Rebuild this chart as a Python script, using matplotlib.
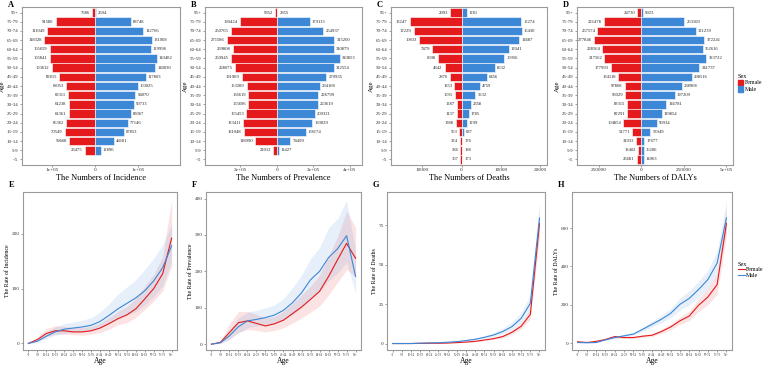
import numpy as np
import matplotlib
matplotlib.use("Agg")
import matplotlib.pyplot as plt
from matplotlib.lines import Line2D
from matplotlib.patches import Patch

plt.rcParams['font.family'] = ['Liberation Serif', 'DejaVu Serif']

# age groups, youngest first
ages = ['<5', '5-9', '10-14', '15-19', '20-24', '25-29', '30-34', '35-39', '40-44',
        '45-49', '50-54', '55-59', '60-64', '65-69', '70-74', '75-79', '95+']

# numbers (top row)
inc_f = [0, 23475, 59668, 70549, 66362, 61361, 61238, 63311, 68053, 82815, 100612,
         105841, 105659, 118328, 111049, 91580, 7586]
inc_m = [0, 12896, 44181, 67853, 77146, 83067, 90733, 94070, 100025, 117803, 140030,
         143482, 129996, 131908, 112766, 83748, 2694]
prev_f = [0, 21012, 118990, 181048, 183411, 165453, 155696, 156619, 163289, 191989,
          228075, 250945, 239808, 271586, 250765, 199424, 9352]
prev_m = [0, 11427, 74499, 158174, 193029, 209321, 223619, 226799, 234168, 270935,
          312554, 343853, 310879, 315200, 254937, 179113, 2855]
death_f = [307, 286, 324, 563, 1388, 1137, 1287, 1591, 1853, 2876, 4342, 6098, 7479,
           10833, 12229, 13247, 2993]
death_m = [173, 188, 176, 637, 1299, 1785, 2358, 3532, 4759, 6456, 8532, 10956, 12041,
           14687, 15430, 15274, 1281]
daly_f = [26681, 18402, 31933, 51771, 104854, 82291, 83315, 93029, 97868, 134118,
          177993, 217562, 228564, 277846, 257574, 221478, 24730]
daly_m = [14963, 16206, 17677, 53949, 90934, 119854, 146781, 197209, 238968, 298516,
          341737, 383722, 362616, 372241, 321239, 253109, 9923]

# rates (bottom row): value, lower, upper
inc_rate_f = [0, 7, 18, 23, 23, 21, 21, 23, 28, 36, 45, 52, 63, 81, 100, 127, 192]
inc_lo_f = [0, 4, 13, 17, 17, 16, 15, 17, 20, 26, 34, 38, 47, 62, 77, 96, 140]
inc_hi_f = [0, 11, 27, 32, 31, 29, 29, 31, 37, 47, 58, 67, 82, 104, 126, 158, 262]
inc_rate_m = [0, 4, 13, 21, 26, 28, 30, 33, 40, 51, 63, 73, 83, 96, 114, 138, 178]
inc_lo_m = [0, 2, 9, 15, 18, 20, 21, 24, 28, 36, 45, 52, 58, 70, 85, 105, 150]
inc_hi_m = [0, 7, 19, 30, 36, 39, 42, 47, 57, 72, 90, 103, 116, 135, 155, 180, 218]

prev_rate_f = [0, 5, 32, 59, 64, 57, 50, 56, 66, 84, 102, 123, 145, 186, 232, 277, 236]
prev_lo_f = [0, 2, 15, 33, 40, 38, 34, 38, 45, 58, 72, 88, 105, 135, 170, 205, 185]
prev_hi_f = [0, 9, 55, 90, 90, 82, 72, 76, 90, 112, 135, 160, 190, 240, 295, 365, 320]
prev_rate_m = [0, 4, 23, 48, 64, 68, 73, 80, 93, 114, 141, 177, 200, 238, 262, 298, 186]
prev_lo_m = [0, 2, 12, 30, 45, 50, 52, 57, 66, 80, 100, 128, 145, 175, 195, 225, 140]
prev_hi_m = [0, 7, 38, 72, 88, 93, 100, 108, 125, 155, 190, 235, 265, 320, 345, 395, 255]

death_rate_f = [0.1, 0.1, 0.1, 0.2, 0.3, 0.3, 0.4, 0.7, 1.0, 1.5, 2.3, 3.2, 4.5, 7.2,
                11.0, 18.5, 76]
death_lo_f = [0.05, 0.05, 0.08, 0.15, 0.2, 0.2, 0.3, 0.5, 0.8, 1.2, 1.9, 2.6, 3.7, 6.0,
              9.3, 15.5, 68]
death_hi_f = [0.15, 0.15, 0.15, 0.3, 0.4, 0.4, 0.5, 0.9, 1.2, 1.8, 2.7, 3.8, 5.4, 8.5,
              13, 22, 84]
death_rate_m = [0.1, 0.1, 0.1, 0.3, 0.5, 0.6, 0.9, 1.3, 2.0, 2.8, 4.0, 5.5, 7.7, 10.8,
                16, 25.5, 79.5]
death_lo_m = [0.05, 0.05, 0.08, 0.2, 0.4, 0.5, 0.7, 1.0, 1.6, 2.3, 3.2, 4.4, 6.2, 8.7,
              13, 21, 70]
death_hi_m = [0.15, 0.15, 0.15, 0.4, 0.6, 0.8, 1.1, 1.7, 2.6, 3.5, 5.1, 7.0, 9.6, 13.5,
              19.5, 31, 90]

daly_rate_f = [7, 3, 9, 19, 34, 29, 29, 36, 41, 60, 84, 116, 141, 197, 240, 305, 624]
daly_lo_f = [5, 2, 7, 15, 28, 24, 24, 30, 34, 50, 70, 98, 118, 165, 200, 255, 560]
daly_hi_f = [9, 4, 11, 23, 41, 35, 35, 43, 49, 72, 100, 136, 166, 232, 285, 360, 700]
daly_rate_m = [3, 2, 3, 17, 29, 38, 47, 72, 98, 124, 155, 202, 233, 279, 331, 417, 653]
daly_lo_m = [2, 1, 2, 14, 24, 32, 40, 62, 84, 106, 132, 172, 198, 238, 283, 360, 585]
daly_hi_m = [4, 3, 4, 21, 35, 45, 56, 85, 114, 145, 180, 235, 272, 322, 380, 478, 740]

RED = '#E41A1C'
BLUE = '#3C87D6'
FRAME = '#9a9a9a'


def style_frame(ax):
    for s in ax.spines.values():
        s.set_color(FRAME)
        s.set_linewidth(0.8)
    ax.tick_params(length=1.5, width=0.4, color='#555555', pad=1, labelcolor='#333333')


def pyramid(rect, fem, mal, xlim, ticks, ticklabels, xlabel, letter):
    ax = fig.add_axes(rect)
    y = np.arange(len(ages))
    fem = np.array(fem)
    mal = np.array(mal)
    ax.barh(y, -fem, height=0.92, color=RED, edgecolor='white', linewidth=0.4)
    ax.barh(y, mal, height=0.92, color=BLUE, edgecolor='white', linewidth=0.4)
    for yi, f, m in zip(y, fem, mal):
        if f > 0:
            ax.annotate(str(f), (-f, yi), xytext=(-1.5, 0), textcoords='offset points',
                        ha='right', va='center', fontsize=3.3, color='#222222')
        if m > 0:
            ax.annotate(str(m), (m, yi), xytext=(1.5, 0), textcoords='offset points',
                        ha='left', va='center', fontsize=3.3, color='#222222')
    ax.set_xlim(*xlim)
    ax.set_ylim(-0.6, len(ages) - 0.4)
    ax.set_yticks(y)
    ax.set_yticklabels(ages, fontsize=3.6)
    ax.set_xticks(ticks)
    ax.set_xticklabels(ticklabels, fontsize=3.8)
    ax.set_xlabel(xlabel, fontsize=6, labelpad=1)
    ax.set_ylabel('Age', fontsize=5, labelpad=1)
    style_frame(ax)
    ax.text(-0.09, 0.99, letter, transform=ax.transAxes, fontsize=6, fontweight='bold',
            ha='left', va='bottom')
    return ax


def rates(rect, fv, flo, fhi, mv, mlo, mhi, ylim, ticks, ylabel, letter):
    ax = fig.add_axes(rect)
    x = np.arange(len(ages))
    ax.fill_between(x, flo, fhi, color=RED, alpha=0.12, linewidth=0)
    ax.fill_between(x, mlo, mhi, color=BLUE, alpha=0.12, linewidth=0)
    ax.plot(x, fv, color=RED, linewidth=0.8)
    ax.plot(x, mv, color=BLUE, linewidth=0.8)
    ax.set_xlim(-0.6, len(ages) - 0.4)
    ax.set_ylim(*ylim)
    ax.set_xticks(x)
    ax.set_xticklabels(ages, fontsize=2.2)
    ax.set_yticks(ticks)
    ax.set_yticklabels([str(t) for t in ticks], fontsize=3.8)
    ax.set_xlabel('Age', fontsize=5.5, labelpad=0)
    ax.set_ylabel(ylabel, fontsize=4.2, labelpad=1)
    style_frame(ax)
    ax.tick_params(axis='x', pad=0.5)
    ax.text(-0.09, 1.02, letter, transform=ax.transAxes, fontsize=6, fontweight='bold',
            ha='left', va='bottom')
    return ax


fig = plt.figure(figsize=(7.63, 3.65), dpi=100)

top_b, top_h = 1 - 165 / 365, 158 / 365
bot_b, bot_h = 1 - 350 / 365, 158 / 365
W = 763

pyramid([22 / W, top_b, 158 / W, top_h], inc_f, inc_m, (-1.7e5, 1.98e5),
        [-1e5, 0, 1e5], ['1e+05', '0', '1e+05'], 'The Numbers of Incidence', 'A')
pyramid([205 / W, top_b, 157 / W, top_h], prev_f, prev_m, (-3.92e5, 4.66e5),
        [-2e5, 0, 2e5, 4e5], ['2e+05', '0', '2e+05', '4e+05'],
        'The Numbers of Prevalence', 'B')
pyramid([391 / W, top_b, 156 / W, top_h], death_f, death_m, (-1.8e4, 2.18e4),
        [-10000, 0, 10000, 20000], ['10000', '0', '10000', '20000'],
        'The Numbers of Deaths', 'C')
pyramid([577 / W, top_b, 156 / W, top_h], daly_f, daly_m, (-3.78e5, 5.4e5),
        [-2.5e5, 0, 2.5e5, 5e5], ['250000', '0', '250000', '5e+05'],
        'The Numbers of DALYs', 'D')

rates([23 / W, bot_b, 154 / W, bot_h], inc_rate_f, inc_lo_f, inc_hi_f,
      inc_rate_m, inc_lo_m, inc_hi_m, (-12, 276), [0, 100, 200],
      'The Rate of Incidence', 'E')
rates([206 / W, bot_b, 155 / W, bot_h], prev_rate_f, prev_lo_f, prev_hi_f,
      prev_rate_m, prev_lo_m, prev_hi_m, (-16, 418), [0, 100, 200, 300, 400],
      'The Rate of Prevalence', 'F')
rates([387 / W, bot_b, 158 / W, bot_h], death_rate_f, death_lo_f, death_hi_f,
      death_rate_m, death_lo_m, death_hi_m, (-4, 96), [0, 25, 50, 75],
      'The Rate of Deaths', 'G')
rates([572 / W, bot_b, 160 / W, bot_h], daly_rate_f, daly_lo_f, daly_hi_f,
      daly_rate_m, daly_lo_m, daly_hi_m, (-36, 788), [0, 200, 400, 600],
      "The Rate of DALYs", 'H')

# legends
bar_handles = [Patch(color=RED, label='Female'), Patch(color=BLUE, label='Male')]
fig.legend(handles=bar_handles, title='Sex', loc='upper left',
           bbox_to_anchor=(734 / W, 1 - 70 / 365), frameon=False, fontsize=4.2,
           title_fontsize=4.5, handlelength=1.0, handleheight=1.0, handletextpad=0.3,
           labelspacing=0.2, borderpad=0.1, alignment='left')
line_handles = [Line2D([], [], color=RED, lw=0.8, label='Female'),
                Line2D([], [], color=BLUE, lw=0.8, label='Male')]
fig.legend(handles=line_handles, title='Sex', loc='upper left',
           bbox_to_anchor=(734 / W, 1 - 258 / 365), frameon=False, fontsize=4.2,
           title_fontsize=4.5, handlelength=1.2, handletextpad=0.3,
           labelspacing=0.1, borderpad=0.1, alignment='left')

fig.savefig('out.png', dpi=100)
